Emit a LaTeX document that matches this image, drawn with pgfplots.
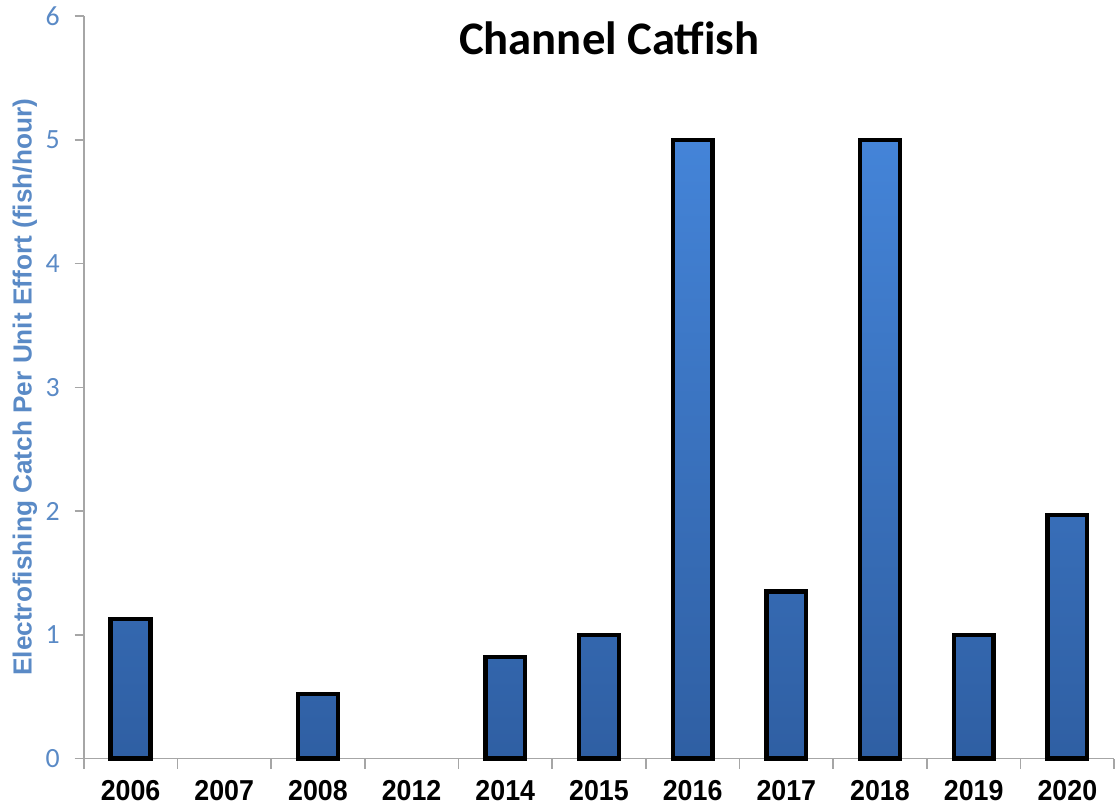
\documentclass[border=0pt]{standalone}
\usepackage{pgfplots}
\pgfplotsset{compat=1.18}
\usepackage{fontspec}
\setmainfont{Liberation Sans}
\newfontfamily\carlito{Carlito}
\newfontfamily\narrow[FakeStretch=0.93]{Liberation Sans}
\definecolor{lblblue}{HTML}{5A8AC6}
\definecolor{bartop}{HTML}{4484D8}
\definecolor{barbot}{HTML}{2F5FA3}
\definecolor{axgray}{HTML}{A6A6A6}
\begin{document}
\begin{tikzpicture}
\begin{axis}[
  scale only axis,
  width=517bp, height=372.5bp,
  xmin=-0.5, xmax=10.5,
  ymin=0, ymax=6,
  ytick={0,1,2,3,4,5,6},
  xtick={0,...,10},
  xticklabels={2006,2007,2008,2012,2014,2015,2016,2017,2018,2019,2020},
  minor xtick={-0.5,0.5,...,10.5},
  major x tick style={draw=none},
  minor x tick style={axgray, line width=0.8bp},
  minor tick length=5bp,
  xticklabel style={yshift=-3bp, font=\narrow\fontsize{14.5}{16}\selectfont\bfseries, text=black},
  yticklabel style={xshift=-4bp, font=\carlito\fontsize{14}{16}\selectfont, text=lblblue},
  /pgf/number format/assume math mode=true,
  axis lines*=left,
  axis line style={axgray, line width=0.8bp},
  major y tick style={axgray, line width=0.8bp},
  tick align=outside,
  major tick length=4.5bp,
  ylabel={Electrofishing Catch Per Unit Effort (fish/hour)},
  every axis y label/.style={at={(rel axis cs:0,0.5)}, xshift=-29.5bp, rotate=90, anchor=center,
    font=\fontsize{13.2}{15}\selectfont\bfseries, text=lblblue},
  clip=false,
]
\addplot[ybar, bar width=20bp, draw=black, line width=2.2bp, top color=bartop, bottom color=barbot]
  coordinates {(0,1.13) (2,0.52) (4,0.82) (5,1.0) (6,5.0) (7,1.35) (8,5.0) (9,1.0) (10,1.97)};
\node[font=\carlito\bfseries\fontsize{23.5}{26}\selectfont, anchor=center] at (rel axis cs:0.51,1) [yshift=-11bp] {Channel Catfish};
\path ([xshift=-42bp]rel axis cs:0,0.5);
\end{axis}
\end{tikzpicture}
\end{document}
